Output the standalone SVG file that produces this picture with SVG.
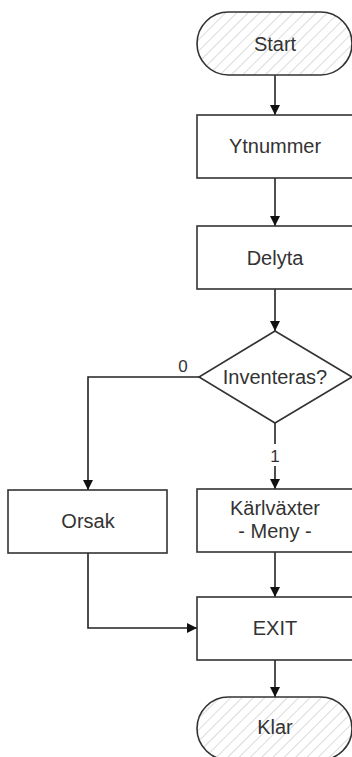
<svg xmlns="http://www.w3.org/2000/svg" width="352" height="757" viewBox="0 0 352 757">
<style>
.shape{fill:#fff;stroke:#333;stroke-width:1.6}
.term{fill:url(#hatch);stroke:#333;stroke-width:1.6}
.lbl{font-family:"Liberation Sans",Arial,sans-serif;font-size:20px;fill:#333;text-anchor:middle}
.small{font-family:"Liberation Sans",Arial,sans-serif;font-size:17px;fill:#333;text-anchor:middle}
.conn{fill:none;stroke:#222;stroke-width:1.6}
</style>
<defs>
<pattern id="hatch" patternUnits="userSpaceOnUse" width="8" height="8" patternTransform="rotate(45)">
<rect width="8" height="8" fill="#fff"/>
<line x1="0" y1="0" x2="0" y2="8" stroke="#c4c4c4" stroke-width="1.2"/>
</pattern>
<marker id="arr" markerWidth="10" markerHeight="10" refX="10" refY="5" orient="auto" markerUnits="userSpaceOnUse">
<path d="M0,0 L10,5 L0,10 Z" fill="#111"/>
</marker>
</defs>
<rect width="352" height="757" fill="#fff"/>
<g id="connectors">
<path class="conn" d="M275,75 L275,115" marker-end="url(#arr)"/>
<path class="conn" d="M275,178 L275,226" marker-end="url(#arr)"/>
<path class="conn" d="M275,289 L275,331" marker-end="url(#arr)"/>
<path class="conn" d="M275,423 L275,444"/>
<path class="conn" d="M275,466 L275,489" marker-end="url(#arr)"/>
<path class="conn" d="M199,377 L88,377 L88,490" marker-end="url(#arr)"/>
<path class="conn" d="M275,552 L275,597" marker-end="url(#arr)"/>
<path class="conn" d="M88,553 L88,628 L197,628" marker-end="url(#arr)"/>
<path class="conn" d="M275,660 L275,697" marker-end="url(#arr)"/>
<text class="small" x="183" y="372">0</text>
<text class="small" x="275" y="462">1</text>
</g>
<g id="start">
<rect class="term" x="197" y="12" width="155" height="63" rx="31.5" ry="31.5"/>
<text class="lbl" x="275" y="51">Start</text>
</g>
<g id="ytnummer">
<rect class="shape" x="197" y="115" width="160" height="63"/>
<text class="lbl" x="275" y="153">Ytnummer</text>
</g>
<g id="delyta">
<rect class="shape" x="197" y="226" width="160" height="63"/>
<text class="lbl" x="275" y="265">Delyta</text>
</g>
<g id="inventeras">
<polygon class="shape" points="275,331 352,377 275,423 199,377"/>
<text class="lbl" x="275" y="384">Inventeras?</text>
</g>
<g id="orsak">
<rect class="shape" x="8" y="490" width="159" height="63"/>
<text class="lbl" x="88" y="528">Orsak</text>
</g>
<g id="karlvaxter">
<rect class="shape" x="197" y="489" width="160" height="63"/>
<text class="lbl" x="275" y="515">Kärlväxter</text>
<text class="lbl" x="275" y="538">- Meny -</text>
</g>
<g id="exit">
<rect class="shape" x="197" y="597" width="160" height="63"/>
<text class="lbl" x="275" y="635">EXIT</text>
</g>
<g id="klar">
<rect class="term" x="197" y="697" width="155" height="63" rx="31.5" ry="31.5"/>
<text class="lbl" x="275" y="734">Klar</text>
</g>
</svg>
